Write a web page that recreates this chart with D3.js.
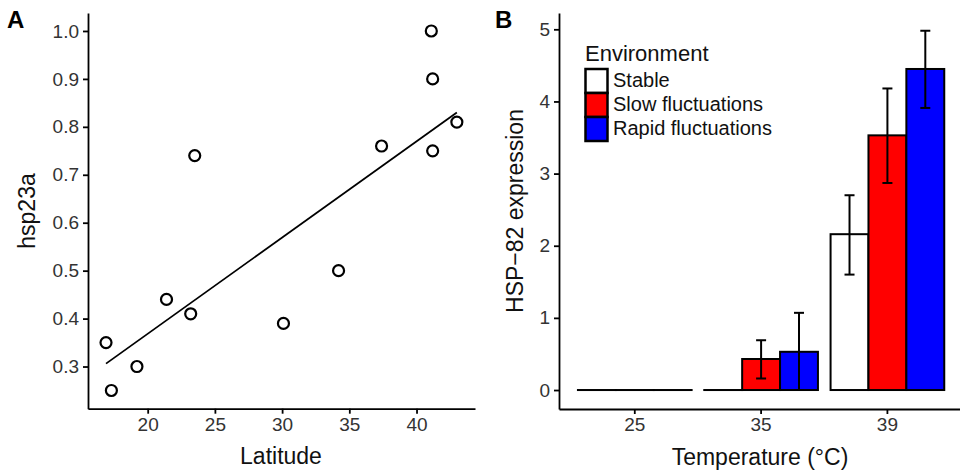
<!DOCTYPE html>
<html>
<head>
<meta charset="utf-8">
<script src="https://cdn.jsdelivr.net/npm/d3@7"></script>
<style>
  body { margin: 0; background: #fff; }
  svg { font-family: "Liberation Sans", Arial, sans-serif; }
  .tick text { fill: #333; font-size: 19px; }
  .tick line, .domain { stroke: #000; stroke-width: 1.8px; }
</style>
</head>
<body>
<div id="chart"></div>
<script>
// Panel A: latitude vs hsp23a
const latitude = [41.1, 41.2, 43.0, 37.4, 41.2, 23.5, 34.2, 21.4, 23.2, 30.1, 16.9, 19.2, 17.3];
const hsp23a = [1.0, 0.9, 0.81, 0.76, 0.75, 0.74, 0.5, 0.44, 0.41, 0.39, 0.35, 0.3, 0.25];
// fitted line
const fitLatitude = [16.9, 43.0];
const fitHsp = [0.306, 0.83];
const latTicks = [20, 25, 30, 35, 40];
const hspTicks = [0.3, 0.4, 0.5, 0.6, 0.7, 0.8, 0.9, 1.0];

// Panel B: HSP-82 expression
const temps = ["25", "35", "39"];
const envs = ["Stable", "Slow fluctuations", "Rapid fluctuations"];
const envColors = ["#ffffff", "#ff0000", "#0000ff"];
const meanStable = [0, 0, 2.16];
const meanSlow = [0, 0.43, 3.53];
const meanRapid = [0, 0.53, 4.45];
const upStable = [0, 0, 2.7];
const upSlow = [0, 0.69, 4.18];
const upRapid = [0, 1.07, 4.98];
const loStable = [0, 0, 1.6];
const loSlow = [0, 0.16, 2.87];
const loRapid = [0, 0.0, 3.91];
const exprTicks = [0, 1, 2, 3, 4, 5];

const width = 960, height = 472;
const svg = d3.select("#chart").append("svg")
  .attr("width", width).attr("height", height);

// ---------- panel A ----------
const xA = d3.scaleLinear().domain([15.56, 44.35]).range([88, 475]);
const yA = d3.scaleLinear().domain([0.212, 1.0375]).range([408.7, 13]);

svg.append("g")
  .attr("transform", "translate(0,408.7)")
  .call(d3.axisBottom(xA).tickValues(latTicks).tickSize(5).tickSizeOuter(0).tickPadding(4));
svg.append("g")
  .attr("transform", "translate(88,0)")
  .call(d3.axisLeft(yA).tickValues(hspTicks).tickFormat(d3.format(".1f"))
    .tickSize(5).tickSizeOuter(0).tickPadding(4));

svg.append("line")
  .attr("x1", xA(fitLatitude[0])).attr("y1", yA(fitHsp[0]))
  .attr("x2", xA(fitLatitude[1])).attr("y2", yA(fitHsp[1]))
  .attr("stroke", "#000").attr("stroke-width", 1.8);

svg.append("g").selectAll("circle")
  .data(latitude.map((d, i) => ({ x: d, y: hsp23a[i] })))
  .enter().append("circle")
  .attr("cx", (d) => xA(d.x))
  .attr("cy", (d) => yA(d.y))
  .attr("r", 5.5)
  .attr("fill", "none")
  .attr("stroke", "#000")
  .attr("stroke-width", 2.2);

svg.append("text").attr("x", 281).attr("y", 464)
  .attr("text-anchor", "middle").attr("font-size", 23).attr("fill", "#111")
  .text("Latitude");
svg.append("text").attr("transform", "translate(35,211) rotate(-90)")
  .attr("text-anchor", "middle").attr("font-size", 23).attr("fill", "#111")
  .text("hsp23a");
svg.append("text").attr("x", 7).attr("y", 28)
  .attr("font-size", 24).attr("font-weight", "bold").text("A");

// ---------- panel B ----------
const xB = d3.scaleBand().domain(temps).range([559, 963.2]).paddingInner(0).paddingOuter(0.1);
const xEnv = d3.scaleBand().domain(envs).range([0, xB.bandwidth() * 0.9]);
const yB = d3.scaleLinear().domain([-0.263, 5.226]).range([409, 13]);
const color = d3.scaleOrdinal().domain(envs).range(envColors);

svg.append("g")
  .attr("transform", "translate(0,409)")
  .call(d3.axisBottom(xB).tickSize(5).tickSizeOuter(0).tickPadding(4));
svg.append("g")
  .attr("transform", "translate(559,0)")
  .call(d3.axisLeft(yB).tickValues(exprTicks).tickFormat(d3.format("d"))
    .tickSize(5).tickSizeOuter(0).tickPadding(4));

const means = [meanStable, meanSlow, meanRapid];
const ups = [upStable, upSlow, upRapid];
const los = [loStable, loSlow, loRapid];
const barData = [];
temps.forEach((t, ti) => {
  envs.forEach((e, ei) => {
    barData.push({ temp: t, env: e, mean: means[ei][ti], up: ups[ei][ti], lo: los[ei][ti] });
  });
});
const barX = (d) => xB(d.temp) + xB.bandwidth() * 0.05 + xEnv(d.env);

// zero-height bars still show as a black outline line
svg.append("g").selectAll("rect")
  .data(barData)
  .enter().append("rect")
  .attr("x", barX)
  .attr("y", (d) => yB(d.mean))
  .attr("width", xEnv.bandwidth())
  .attr("height", (d) => Math.max(yB(0) - yB(d.mean), 0.01))
  .attr("fill", (d) => color(d.env))
  .attr("stroke", "#000")
  .attr("stroke-width", 2);

const capW = 10;
const err = svg.append("g").selectAll("g")
  .data(barData.filter((d) => d.up > d.mean || d.lo < d.mean))
  .enter().append("g")
  .attr("stroke", "#000").attr("stroke-width", 2);
err.append("line")
  .attr("x1", (d) => barX(d) + xEnv.bandwidth() / 2)
  .attr("x2", (d) => barX(d) + xEnv.bandwidth() / 2)
  .attr("y1", (d) => yB(d.up)).attr("y2", (d) => yB(d.lo));
err.append("line")
  .attr("x1", (d) => barX(d) + xEnv.bandwidth() / 2 - capW / 2)
  .attr("x2", (d) => barX(d) + xEnv.bandwidth() / 2 + capW / 2)
  .attr("y1", (d) => yB(d.up)).attr("y2", (d) => yB(d.up));
err.append("line")
  .attr("x1", (d) => barX(d) + xEnv.bandwidth() / 2 - capW / 2)
  .attr("x2", (d) => barX(d) + xEnv.bandwidth() / 2 + capW / 2)
  .attr("y1", (d) => yB(d.lo)).attr("y2", (d) => yB(d.lo));

svg.append("text").attr("x", 760).attr("y", 465)
  .attr("text-anchor", "middle").attr("font-size", 23).attr("fill", "#111")
  .text("Temperature (°C)");
svg.append("text").attr("transform", "translate(523,211) rotate(-90)")
  .attr("text-anchor", "middle").attr("font-size", 23).attr("fill", "#111")
  .text("HSP\u221282 expression");
svg.append("text").attr("x", 495).attr("y", 28)
  .attr("font-size", 24).attr("font-weight", "bold").text("B");

// Legend
const legend = svg.append("g").attr("transform", "translate(585,61)");
legend.append("text").attr("x", 0).attr("y", 0)
  .attr("font-size", 22).attr("fill", "#111").text("Environment");
const item = legend.selectAll(".legend-item")
  .data(envs)
  .enter().append("g")
  .attr("class", "legend-item")
  .attr("transform", (d, i) => `translate(0,${8 + i * 24})`);
item.append("rect")
  .attr("x", 0.5).attr("y", 0)
  .attr("width", 22).attr("height", 24)
  .attr("fill", (d) => color(d))
  .attr("stroke", "#000").attr("stroke-width", 2.5);
item.append("text")
  .attr("x", 28).attr("y", 18)
  .attr("font-size", 20).attr("fill", "#111")
  .text((d) => d);
</script>
</body>
</html>
